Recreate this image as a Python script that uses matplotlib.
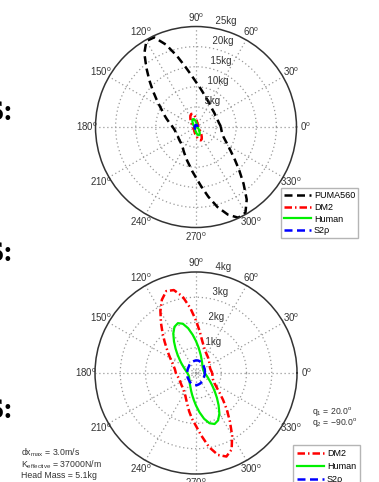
"""Effective-mass polar plots (PUMA560 / DM2 / Human / S2rho), two panels."""

import numpy as np
import matplotlib
matplotlib.use("Agg")
import matplotlib.pyplot as plt

plt.rcParams["font.family"] = ["Liberation Sans", "DejaVu Sans"]
plt.rcParams["mathtext.fontset"] = "custom"
plt.rcParams["mathtext.rm"] = "Liberation Sans"
plt.rcParams["mathtext.default"] = "regular"

# ============================================================
# 1.  Data (effective mass in kg, sampled every 5 degrees)
# ============================================================

THETA_DEG = list(range(0, 360, 5))

PUMA560 = [
    6.2, 6.0, 5.8, 5.7, 5.6, 5.6, 5.6, 5.7, 5.8, 5.9, 6.1, 6.3,
    6.7, 7.1, 7.6, 8.2, 9.0, 10.0, 11.2, 12.9, 15.2, 18.3, 21.8, 24.6,
    24.7, 22.4, 19.2, 16.4, 14.0, 12.0, 10.4, 9.2, 8.3, 7.5, 6.8, 6.2,
    5.8, 5.5, 5.3, 5.2, 5.1, 5.1, 5.1, 5.2, 5.3, 5.4, 5.6, 5.9,
    6.4, 7.0, 7.7, 8.6, 9.6, 11.0, 12.6, 14.8, 17.6, 20.6, 23.2, 24.9,
    24.6, 22.0, 18.4, 15.2, 12.6, 10.6, 9.2, 8.1, 7.3, 6.8, 6.5, 6.3,
]
DM2 = [
    0.64, 0.62, 0.60, 0.59, 0.59, 0.60, 0.62, 0.65, 0.68, 0.72, 0.76, 0.80,
    0.85, 0.91, 1.00, 1.14, 1.34, 1.66, 2.08, 2.58, 3.08, 3.40, 3.45, 3.20,
    2.82, 2.42, 2.06, 1.76, 1.52, 1.33, 1.18, 1.06, 0.97, 0.90, 0.85, 0.82,
    0.80, 0.77, 0.74, 0.72, 0.71, 0.71, 0.72, 0.73, 0.75, 0.77, 0.80, 0.85,
    0.91, 1.00, 1.13, 1.31, 1.55, 1.82, 2.10, 2.50, 2.98, 3.36, 3.52, 3.34,
    2.86, 2.34, 1.90, 1.52, 1.22, 1.00, 0.86, 0.77, 0.71, 0.68, 0.66, 0.65,
]
HUMAN = [
    0.34, 0.33, 0.32, 0.31, 0.31, 0.31, 0.32, 0.33, 0.34, 0.37, 0.39, 0.43,
    0.48, 0.54, 0.62, 0.73, 0.86, 1.04, 1.26, 1.52, 1.80, 2.02, 2.10, 2.02,
    1.80, 1.52, 1.26, 1.04, 0.86, 0.73, 0.62, 0.54, 0.48, 0.43, 0.39, 0.37,
    0.34, 0.33, 0.32, 0.31, 0.31, 0.31, 0.32, 0.33, 0.35, 0.37, 0.40, 0.44,
    0.49, 0.55, 0.63, 0.74, 0.88, 1.06, 1.29, 1.56, 1.84, 2.06, 2.15, 2.07,
    1.85, 1.56, 1.29, 1.06, 0.88, 0.74, 0.63, 0.55, 0.49, 0.44, 0.40, 0.37,
]
S2RHO = [
    0.35, 0.35, 0.36, 0.36, 0.37, 0.38, 0.38, 0.39, 0.40, 0.42, 0.43, 0.45,
    0.46, 0.47, 0.48, 0.49, 0.50, 0.50, 0.50, 0.49, 0.48, 0.47, 0.46, 0.45,
    0.43, 0.42, 0.41, 0.39, 0.38, 0.37, 0.37, 0.36, 0.36, 0.35, 0.35, 0.35,
    0.35, 0.35, 0.35, 0.36, 0.36, 0.37, 0.38, 0.38, 0.39, 0.40, 0.41, 0.43,
    0.44, 0.45, 0.46, 0.47, 0.48, 0.48, 0.48, 0.48, 0.47, 0.46, 0.45, 0.44,
    0.42, 0.41, 0.40, 0.38, 0.37, 0.36, 0.36, 0.35, 0.35, 0.35, 0.35, 0.35,
]

ANGLE_TICKS = list(range(0, 360, 30))
TOP_RINGS = [5, 10, 15, 20, 25]
BOT_RINGS = [1, 2, 3, 4]

INFO_LINES = ["dx$_{max}$ = 3.0m/s", "K$_{effective}$ = 37000N/m", "Head Mass = 5.1kg"]
Q_LINES = ["q$_1$ = 20.0$^o$", "q$_2$ = \u221290.0$^o$"]

# ============================================================
# 2.  Styles
# ============================================================

STYLE = {
    "PUMA560": dict(color="black", linestyle=(0, (3.2, 1.8)), linewidth=1.8),
    "DM2":     dict(color="#ff0000", linestyle=(0, (3.0, 1.2, 0.6, 1.2)), linewidth=1.8),
    "Human":   dict(color="#00f000", linestyle="-", linewidth=1.6),
    "S2ρ":     dict(color="#0000ff", linestyle=(0, (3.2, 1.8)), linewidth=1.8),
}
GRID_COLOR = "#999999"
TEXT_COLOR = "#333333"


def _closed(values):
    th = np.deg2rad(THETA_DEG + [360])
    return th, list(values) + [values[0]]


def _setup_polar(ax, rings, tiny_ring=None):
    rmax = rings[-1]
    rinc = rings[1] - rings[0]
    ax.set_ylim(0, rmax)
    ax.set_xticks(np.deg2rad(ANGLE_TICKS))
    ax.set_xticklabels([])
    yt = list(rings[:-1])
    if tiny_ring is not None:
        yt = [tiny_ring] + yt
    ax.set_yticks(yt)
    ax.set_yticklabels([])
    ax.grid(True, linestyle=(0, (1.0, 2.2)), color=GRID_COLOR, linewidth=0.9)
    ax.spines["polar"].set_color(TEXT_COLOR)
    ax.spines["polar"].set_linewidth(1.1)
    for a in ANGLE_TICKS:
        ax.text(np.deg2rad(a), rmax * 1.09, f"{a}$^o$", ha="center", va="center",
                fontsize=7, color=TEXT_COLOR)
    for rr in rings:
        ax.text(np.deg2rad(82), rr + rinc / 20, f"  {rr}kg", ha="left", va="bottom",
                fontsize=7, color=TEXT_COLOR)


fig = plt.figure(figsize=(3.79, 4.82), dpi=100)

# ============================================================
# 3.  Top panel: all four devices
# ============================================================

ax_top = fig.add_axes([0.2520, 0.5280, 0.5303, 0.4170], projection="polar")
_setup_polar(ax_top, TOP_RINGS)
for name, vals in [("PUMA560", PUMA560), ("DM2", DM2), ("Human", HUMAN), ("S2ρ", S2RHO)]:
    th, r = _closed(vals)
    ax_top.plot(th, r, label=name, **STYLE[name])

ax_top.legend(loc="upper left", bbox_to_anchor=(281 / 379, 1 - 188 / 482),
              bbox_transform=fig.transFigure, fontsize=6.5, fancybox=False,
              edgecolor="#b5b5b5", framealpha=1, borderpad=0.35, labelspacing=0.3,
              handlelength=3.0, handletextpad=0.3, borderaxespad=0)

# ============================================================
# 4.  Bottom panel: zoom on the small devices
# ============================================================

ax_bot = fig.add_axes([0.2507, 0.0166, 0.5330, 0.4191], projection="polar")
_setup_polar(ax_bot, BOT_RINGS, tiny_ring=0.11)
for name, vals in [("DM2", DM2), ("Human", HUMAN), ("S2ρ", S2RHO)]:
    th, r = _closed(vals)
    ax_bot.plot(th, r, label=name, **STYLE[name])

ax_bot.legend(loc="upper left", bbox_to_anchor=(293 / 379, 1 - 445 / 482),
              bbox_transform=fig.transFigure, fontsize=6.5, fancybox=False,
              edgecolor="#b5b5b5", framealpha=1, borderpad=0.45, labelspacing=0.45,
              handlelength=3.0, handletextpad=0.3, borderaxespad=0)

# ============================================================
# 5.  Annotations
# ============================================================

for i, line in enumerate(INFO_LINES):
    fig.text(21 / 379, 1 - (453 + i * 11.5) / 482, line, fontsize=6.3,
             va="center", ha="left", color=TEXT_COLOR)
for i, line in enumerate(Q_LINES):
    fig.text(312 / 379, 1 - (411 + i * 11.5) / 482, line, fontsize=6.2,
             va="center", ha="left", color=TEXT_COLOR)

# slide text cut off at the left edge
for yb in [120, 261, 418]:
    fig.text(13 / 379, 1 - yb / 482, "S:", ha="right", va="baseline",
             fontsize=21, fontweight="bold", family=["Liberation Serif"])

fig.savefig("out.png", dpi=100, facecolor="white")
